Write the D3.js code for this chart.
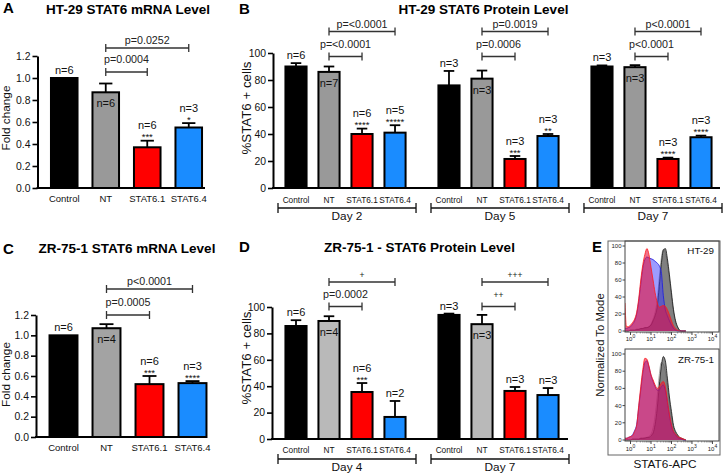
<!DOCTYPE html>
<html><head><meta charset="utf-8">
<script src="https://cdn.jsdelivr.net/npm/d3@7"></script>
<style>
body{margin:0;background:#fff}
svg{display:block}
text{font-family:"Liberation Sans",Arial,Helvetica,sans-serif}
</style>
</head><body>
<svg id="c" width="723" height="473"></svg>
<script>
// ---------------- DATA ----------------
const categories = ["Control", "NT", "STAT6.1", "STAT6.4"];

// A: HT-29 STAT6 mRNA
const A_mean   = [1.00, 0.87, 0.37, 0.55];
const A_errTop = [1.00, 0.95, 0.43, 0.59];
const A_n      = ["n=6", "n=6", "n=6", "n=3"];
const A_stars  = ["", "", "***", "*"];
const A_yTicks = [0, 0.2, 0.4, 0.6, 0.8, 1.0, 1.2];
const A_brackets = [["NT", "STAT6.1", "p=0.0004", 0], ["NT", "STAT6.4", "p=0.0252", 1]];

// B: HT-29 STAT6 protein
const B_days   = ["Day 2", "Day 5", "Day 7"];
const B_mean   = [[90, 86, 40, 41], [76, 81, 21.5, 38.5], [90, 89.5, 21.5, 37.6]];
const B_errTop = [[92.5, 90, 44, 46.5], [86.7, 87, 23.7, 40], [90.8, 91, 22.5, 38.8]];
const B_n      = [["n=6", "n=7", "n=6", "n=5"], ["n=3", "n=3", "n=3", "n=3"], ["n=3", "n=3", "n=3", "n=3"]];
const B_stars  = [["", "", "****", "*****"], ["", "", "***", "**"], ["", "", "****", "****"]];
const B_yTicks = [0, 20, 40, 60, 80, 100];
const B_brackets = [
  [["NT", "STAT6.1", "p=<0.0001", 0], ["NT", "STAT6.4", "p=<0.0001", 1]],
  [["NT", "STAT6.1", "p=0.0006", 0], ["NT", "STAT6.4", "p=0.0019", 1]],
  [["NT", "STAT6.1", "p<0.0001", 0], ["NT", "STAT6.4", "p<0.0001", 1]]
];

// C: ZR-75-1 STAT6 mRNA
const C_mean   = [1.00, 1.07, 0.52, 0.53];
const C_errTop = [1.00, 1.11, 0.60, 0.55];
const C_n      = ["n=6", "n=4", "n=6", "n=3"];
const C_stars  = ["", "", "***", "****"];
const C_yTicks = [0, 0.2, 0.4, 0.6, 0.8, 1.0, 1.2];
const C_brackets = [["NT", "STAT6.1", "p=0.0005", 0], ["NT", "STAT6.4", "p<0.0001", 1]];

// D: ZR-75-1 STAT6 protein
const D_days   = ["Day 4", "Day 7"];
const D_mean   = [[85.6, 89.4, 35.6, 16.7], [94, 87, 36.4, 33.3]];
const D_errTop = [[90, 93, 42.4, 28.8], [95, 94, 39.4, 38.6]];
const D_n      = [["n=6", "n=4", "n=6", "n=2"], ["n=3", "n=3", "n=3", "n=3"]];
const D_stars  = [["", "", "***", ""], ["", "", "", ""]];
const D_yTicks = [0, 20, 40, 60, 80, 100];
const D_brackets = [
  [["NT", "STAT6.1", "p=0.0002", 0], ["NT", "STAT6.4", "+", 1]],
  [["NT", "STAT6.1", "++", 0], ["NT", "STAT6.4", "+++", 1]]
];

// E: flow histograms (x = log10 STAT6-APC, y = % of mode)
const E_logBins = [-0.27,-0.2,-0.1,0,0.1,0.2,0.3,0.4,0.5,0.6,0.7,0.8,0.9,1.0,1.1,1.2,1.3,1.4,1.5,1.6,1.7,1.8,1.9,2.0,2.1,2.2,2.3,2.4,2.5,2.6,2.7];
const E_HT_NT      = [0,0,0,1,1,1,1,2,2,3,3,4,5,8,14,22,36,62,85,96,92,78,60,40,22,10,4,1,0,0,0];
const E_HT_Control = [0,0,0,1,1,1,2,2,3,3,4,4,5,7,12,18,28,52,78,95,97,85,66,45,25,12,5,1,0,0,0];
const E_HT_STAT64  = [3,3,4,5,8,12,20,35,55,74,84,87,86,85,84,82,80,77,70,42,25,18,12,7,3,1,0,0,0,0,0];
const E_HT_STAT61  = [33,5,5,7,10,14,22,38,60,78,90,97,90,75,60,45,34,28,29,30,29,25,19,12,6,3,1,0,0,0,0];
const E_ZR_NT      = [0,0,0,0,1,1,1,1,2,2,3,3,4,7,14,28,50,75,90,88,80,62,42,26,14,8,4,2,1,0,0];
const E_ZR_Control = [0,0,0,0,1,1,1,1,2,2,2,3,3,5,8,18,36,62,85,97,92,72,50,33,17,10,6,3,2,1,0];
const E_ZR_STAT64  = [2,2,3,4,6,11,18,38,58,78,90,92,85,75,68,62,58,58,62,64,58,44,28,16,9,6,3,2,1,0,0];
const E_ZR_STAT61  = [2,2,3,4,5,10,17,40,62,82,95,94,86,76,70,64,60,62,66,68,62,46,30,18,10,7,4,3,2,1,0];
const E_yTicks = [0, 20, 40, 60, 80, 100];
const E_xTicks = [1, 10, 100, 1000, 10000];

// ---------------- DRAWING ----------------
const svg = d3.select("#c");
const FONT = "'Liberation Sans', Arial, sans-serif";

function barPanel(cfg) {
  const g = svg.append("g");
  const y = d3.scaleLinear().domain([0, cfg.yMax]).range([cfg.y0, cfg.yTop]);
  const nG = cfg.means.length;
  const outer = d3.scaleBand().domain(d3.range(nG)).range(cfg.outerRange).paddingInner(cfg.groupPad);
  const inner = d3.scaleBand().domain(categories).range([0, outer.bandwidth()])
    .paddingInner(cfg.pad).paddingOuter(cfg.pad / 2);
  const bw = inner.bandwidth();
  const cx = (gi, c) => outer(gi) + inner(c) + bw / 2;

  // bars + error bars
  cfg.means.forEach((means, gi) => {
    categories.forEach((c, ci) => {
      const m = means[ci], t = cfg.errTops[gi][ci];
      const x = cx(gi, c);
      if (t > m) {
        g.append("line").attr("x1", x).attr("x2", x).attr("y1", y(m)).attr("y2", y(t))
          .attr("stroke", "#000").attr("stroke-width", 1.8);
        g.append("line").attr("x1", x - bw * 0.25).attr("x2", x + bw * 0.25).attr("y1", y(t)).attr("y2", y(t))
          .attr("stroke", "#000").attr("stroke-width", 1.8);
      }
      g.append("rect").attr("x", outer(gi) + inner(c)).attr("y", y(m))
        .attr("width", bw).attr("height", cfg.y0 - y(m))
        .attr("fill", cfg.colors[ci]).attr("stroke", "#000").attr("stroke-width", 2);
    });
  });

  // n labels and stars
  cfg.means.forEach((means, gi) => {
    categories.forEach((c, ci) => {
      const x = cx(gi, c);
      const yt = y(cfg.errTops[gi][ci]);
      const n = cfg.ns[gi][ci], st = cfg.stars[gi][ci];
      let ny;
      if (ci === 1) ny = y(means[ci]) + 15;
      else if (st) {
        g.append("text").attr("x", x).attr("y", yt - 0.5).attr("text-anchor", "middle")
          .attr("font-size", 9.5).attr("fill", "#111").text(st);
        ny = yt - 11.5;
      } else ny = yt - 4;
      g.append("text").attr("x", x).attr("y", ny).attr("text-anchor", "middle")
        .attr("font-size", 11).attr("fill", "#111").text(n);
    });
  });

  // significance brackets
  cfg.brackets.forEach((list, gi) => {
    list.forEach(([a, b, lab, tier]) => {
      const x1 = cx(gi, a), x2 = cx(gi, b), yy = cfg.tiers[tier];
      g.append("path").attr("d", `M${x1},${yy - 4}V${yy + 4}M${x1},${yy}H${x2}M${x2},${yy - 4}V${yy + 4}`)
        .attr("fill", "none").attr("stroke", "#333").attr("stroke-width", 1.3);
      const isPlus = lab.startsWith("+");
      g.append("text").attr("x", (x1 + x2) / 2).attr("y", tier === 0 ? yy - 9 : yy - 4)
        .attr("text-anchor", "middle").attr("font-size", isPlus ? 8.5 : 10.7).attr("fill", "#222").text(lab);
    });
  });

  // axes
  const ax = g.append("g").attr("transform", `translate(${cfg.axisX},0)`)
    .call(d3.axisLeft(y).tickValues(cfg.ticks).tickSize(5).tickSizeOuter(0).tickPadding(2)
      .tickFormat(cfg.fmt));
  ax.select(".domain").attr("stroke", "#000").attr("stroke-width", 2);
  ax.selectAll(".tick line").attr("stroke", "#000").attr("stroke-width", 1.6);
  ax.selectAll(".tick text").attr("font-size", 10.4).attr("fill", "#111").attr("font-family", FONT);
  g.append("line").attr("x1", cfg.axisX - 1).attr("x2", cfg.xEnd).attr("y1", cfg.y0).attr("y2", cfg.y0)
    .attr("stroke", "#000").attr("stroke-width", 2);

  // category labels
  cfg.means.forEach((means, gi) => {
    categories.forEach(c => {
      g.append("text").attr("x", cx(gi, c)).attr("y", cfg.y0 + cfg.catDy).attr("text-anchor", "middle")
        .attr("font-size", cfg.catFont).attr("fill", "#111").text(c);
    });
  });

  // day brackets
  if (cfg.days) {
    cfg.days.forEach((d, gi) => {
      const x1 = outer(gi) - 1.5, x2 = outer(gi) + outer.bandwidth() + 4.5, yy = cfg.y0 + 20;
      g.append("path").attr("d", `M${x1},${yy - 5}V${yy + 5}M${x1},${yy}H${x2}M${x2},${yy - 5}V${yy + 5}`)
        .attr("fill", "none").attr("stroke", "#111").attr("stroke-width", 1.3);
      g.append("text").attr("x", (x1 + x2) / 2).attr("y", cfg.y0 + 32).attr("text-anchor", "middle")
        .attr("font-size", 11.8).attr("fill", "#111").text(d);
    });
  }

  // y label
  g.append("text").attr("transform", `translate(${cfg.yLabX},${cfg.yLabY}) rotate(-90)`)
    .attr("text-anchor", "middle").attr("font-size", cfg.yLabFont).attr("fill", "#111").text(cfg.yLabel);
  // title + letter
  g.append("text").attr("x", cfg.titleX).attr("y", cfg.titleY).attr("text-anchor", "middle")
    .attr("font-size", 13.5).attr("font-weight", "bold").attr("fill", "#000").text(cfg.title);
  g.append("text").attr("x", cfg.letterX).attr("y", cfg.letterY)
    .attr("font-size", 15).attr("font-weight", "bold").attr("fill", "#000").text(cfg.letter);
}

barPanel({
  means: [A_mean], errTops: [A_errTop], ns: [A_n], stars: [A_stars], brackets: [A_brackets],
  yMax: 1.2, y0: 188, yTop: 56, axisX: 37.5, xEnd: 205, outerRange: [43.5, 209.5], groupPad: 0, pad: 0.36,
  colors: ["#000000", "#999999", "#ff0000", "#1a8cff"], tiers: [72, 48], ticks: A_yTicks, fmt: d3.format(".1f"),
  catFont: 9.5, catDy: 14, yLabel: "Fold change", yLabX: 10, yLabY: 118, yLabFont: 11.8,
  title: "HT-29 STAT6 mRNA Level", titleX: 128, titleY: 13.5, letter: "A", letterX: 3, letterY: 13
});
barPanel({
  means: B_mean, errTops: B_errTop, ns: B_n, stars: B_stars, brackets: B_brackets, days: B_days,
  yMax: 100, y0: 188, yTop: 53, axisX: 273, xEnd: 720, outerRange: [279.5, 717.5], groupPad: 0.137, pad: 0.36,
  colors: ["#000000", "#999999", "#ff0000", "#1a8cff"], tiers: [56.5, 31.5], ticks: B_yTicks, fmt: d3.format("d"),
  catFont: 8.3, catDy: 15, yLabel: "%STAT6 + cells", yLabX: 250.5, yLabY: 108, yLabFont: 13.3,
  title: "HT-29 STAT6 Protein Level", titleX: 483.5, titleY: 13.5, letter: "B", letterX: 239, letterY: 13.5
});
barPanel({
  means: [C_mean], errTops: [C_errTop], ns: [C_n], stars: [C_stars], brackets: [C_brackets],
  yMax: 1.2, y0: 437, yTop: 315, axisX: 36, xEnd: 206, outerRange: [42, 214], groupPad: 0, pad: 0.35,
  colors: ["#000000", "#a3a3a3", "#ff0000", "#1a8cff"], tiers: [315, 289], ticks: C_yTicks, fmt: d3.format(".1f"),
  catFont: 9.5, catDy: 14, yLabel: "Fold change", yLabX: 10, yLabY: 374.5, yLabFont: 11.8,
  title: "ZR-75-1 STAT6 mRNA Level", titleX: 127, titleY: 252.5, letter: "C", letterX: 3, letterY: 254
});
barPanel({
  means: D_mean, errTops: D_errTop, ns: D_n, stars: D_stars, brackets: D_brackets, days: D_days,
  yMax: 100, y0: 439, yTop: 307, axisX: 272, xEnd: 568, outerRange: [279.5, 564.5], groupPad: 0.1373, pad: 0.36,
  colors: ["#000000", "#b9b9b9", "#ff0000", "#1a8cff"], tiers: [306.5, 282], ticks: D_yTicks, fmt: d3.format("d"),
  catFont: 8.3, catDy: 13.5, yLabel: "%STAT6 + cells", yLabX: 250.5, yLabY: 358, yLabFont: 13.3,
  title: "ZR-75-1 - STAT6 Protein Level", titleX: 419.5, titleY: 252, letter: "D", letterX: 239, letterY: 252
});

// ---------------- PANEL E ----------------
const ex = d3.scaleLog().domain([Math.pow(10, -0.27), Math.pow(10, 4.32)]).range([625, 719]);
const eSeries = [
  { key: "NT", fill: "#c4c4c4", op: 0.55, stroke: "#9a9a9a" },
  { key: "Control", fill: "#4d4d4d", op: 0.65, stroke: "#111111" },
  { key: "STAT6.4", fill: "#3a3aff", op: 0.5, stroke: "#1a1ae0" },
  { key: "STAT6.1", fill: "#e8103a", op: 0.6, stroke: "#ff1a1a" }
];
function histPanel(id, top, bottom, sets, label, labelY, tickLabY) {
  const g = svg.append("g");
  const y = d3.scaleLinear().domain([0, 100]).range([bottom, top + 5]);
  g.append("clipPath").attr("id", id).append("rect")
    .attr("x", 625).attr("y", top).attr("width", 94).attr("height", bottom - top + 1);
  const area = d3.area().x((d, i) => ex(Math.pow(10, E_logBins[i]))).y0(bottom).y1(d => y(d))
    .curve(d3.curveMonotoneX);
  const line = d3.line().x((d, i) => ex(Math.pow(10, E_logBins[i]))).y(d => y(d)).curve(d3.curveMonotoneX);
  const hg = g.append("g").attr("clip-path", `url(#${id})`);
  sets.forEach((vals, k) => {
    const s = eSeries[k];
    hg.append("path").attr("d", area(vals)).attr("fill", s.fill).attr("fill-opacity", s.op);
    hg.append("path").attr("d", line(vals)).attr("fill", "none").attr("stroke", s.stroke).attr("stroke-width", 0.8);
  });
  // plot frame
  g.append("rect").attr("x", 625).attr("y", top).attr("width", 94).attr("height", bottom + 1 - top)
    .attr("fill", "none").attr("stroke", "#444").attr("stroke-width", 1);
  // y ticks
  E_yTicks.forEach(t => {
    g.append("line").attr("x1", 622.5).attr("x2", 625).attr("y1", y(t)).attr("y2", y(t)).attr("stroke", "#444");
    g.append("text").attr("x", 621.5).attr("y", y(t) + 2).attr("text-anchor", "end")
      .attr("font-size", 6).attr("fill", "#222").text(t);
  });
  // x ticks (major + minor)
  for (let d = 0; d < 4; d++) for (let k = 2; k <= 9; k++) {
    const xv = ex(k * Math.pow(10, d));
    g.append("line").attr("x1", xv).attr("x2", xv).attr("y1", bottom + 1).attr("y2", bottom + 2.5).attr("stroke", "#555").attr("stroke-width", 0.6);
  }
  E_xTicks.forEach(t => {
    const xv = ex(t);
    g.append("line").attr("x1", xv).attr("x2", xv).attr("y1", bottom + 1).attr("y2", bottom + 4).attr("stroke", "#444");
    const tx = g.append("text").attr("x", xv).attr("y", tickLabY).attr("text-anchor", "middle")
      .attr("font-size", 6).attr("fill", "#222");
    tx.append("tspan").text("10");
    tx.append("tspan").attr("dy", -3).attr("font-size", 5).text(Math.round(Math.log10(t)));
  });
  g.append("text").attr("x", 714).attr("y", labelY).attr("text-anchor", "end")
    .attr("font-size", 9.8).attr("fill", "#111").text(label);
}
// outer frame
svg.append("rect").attr("x", 608).attr("y", 241).attr("width", 112).attr("height", 214)
  .attr("fill", "none").attr("stroke", "#666").attr("stroke-width", 1);
histPanel("clipHT", 241, 331, [E_HT_NT, E_HT_Control, E_HT_STAT64, E_HT_STAT61], "HT-29", 254, 341);
histPanel("clipZR", 349, 440, [E_ZR_NT, E_ZR_Control, E_ZR_STAT64, E_ZR_STAT61], "ZR-75-1", 363, 451);
svg.append("text").attr("transform", "translate(603.5,345) rotate(-90)").attr("text-anchor", "middle")
  .attr("font-size", 11.3).attr("fill", "#111").text("Normalized To Mode");
svg.append("text").attr("x", 665).attr("y", 468).attr("text-anchor", "middle")
  .attr("font-size", 11.8).attr("fill", "#111").text("STAT6-APC");
svg.append("text").attr("x", 592).attr("y", 252).attr("font-size", 15).attr("font-weight", "bold").text("E");
</script>
</body></html>
